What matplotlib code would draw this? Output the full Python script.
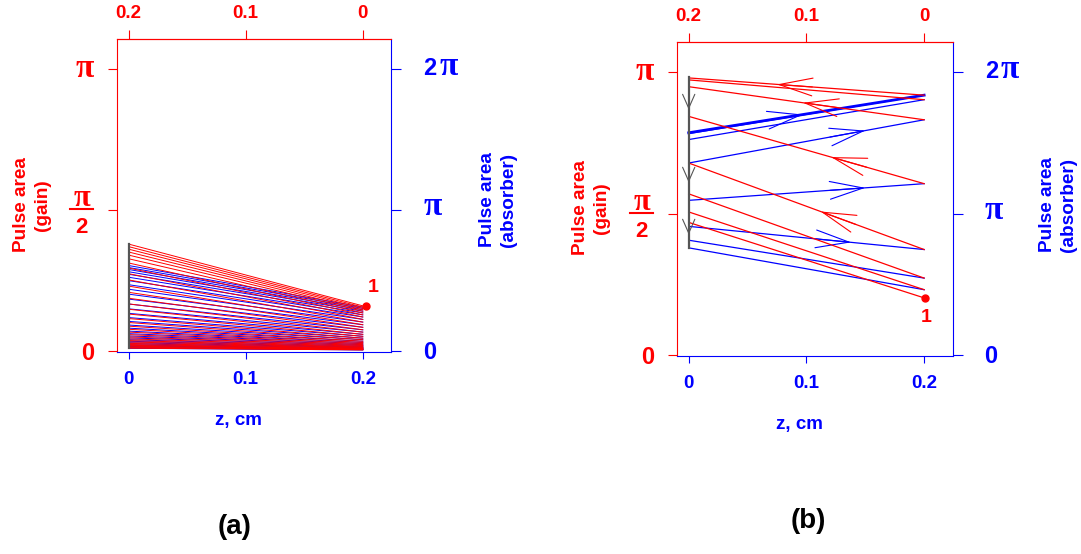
import matplotlib
matplotlib.use('Agg')
import matplotlib.pyplot as plt
import matplotlib.transforms as mtransforms
from matplotlib.lines import Line2D

RED = '#ff0000'
BLUE = '#0000ff'
GREY = '#555555'

# Panel (a): decaying pulse, areas in units of pi
# gain section: area at entry (z = 0.2) and exit (z = 0)
gain_in_a = [0.160, 0.1555, 0.151, 0.146, 0.141, 0.135, 0.128, 0.1205, 0.112,
             0.1024, 0.0931, 0.0839, 0.0751, 0.0668, 0.059, 0.052, 0.0455,
             0.0398, 0.0345, 0.0301, 0.0261, 0.0225, 0.0193, 0.0165, 0.0142,
             0.0123, 0.0104, 0.0088, 0.0077, 0.0065, 0.0054, 0.0046, 0.0038]
gain_out_a = [0.379, 0.370, 0.361, 0.351, 0.340, 0.327, 0.312, 0.294, 0.274,
              0.252, 0.230, 0.208, 0.187, 0.167, 0.148, 0.131, 0.115, 0.101,
              0.088, 0.077, 0.067, 0.058, 0.050, 0.043, 0.037, 0.032, 0.027,
              0.023, 0.020, 0.017, 0.014, 0.012, 0.010]
# absorber section: area at entry (z = 0) and exit (z = 0.2)
abs_in_a = [0.606, 0.592, 0.578, 0.562, 0.544, 0.523, 0.499, 0.470, 0.438,
            0.403, 0.368, 0.333, 0.299, 0.267, 0.237, 0.210, 0.184, 0.162,
            0.141, 0.123, 0.107, 0.093, 0.080, 0.069, 0.059, 0.051, 0.043,
            0.037, 0.032, 0.027, 0.022, 0.019]
abs_out_a = [0.311, 0.302, 0.292, 0.282, 0.270, 0.256, 0.241, 0.224, 0.205,
             0.186, 0.168, 0.150, 0.134, 0.118, 0.104, 0.091, 0.080, 0.069,
             0.060, 0.052, 0.045, 0.039, 0.033, 0.028, 0.025, 0.021, 0.018,
             0.015, 0.013, 0.011, 0.009, 0.008]
start_a = (0.2025, 0.1585)

# Panel (b): pulse growing towards the stable area
gain_in_b = [0.202, 0.231, 0.272, 0.373, 0.606, 0.832, 0.903, 0.919]
gain_out_b = [0.469, 0.506, 0.570, 0.679, 0.844, 0.949, 0.973, 0.980]
abs_in_b = [0.758, 0.812, 0.910, 1.094, 1.358, 1.524, 1.566, 1.572]
abs_out_b = [0.462, 0.544, 0.746, 1.212, 1.664, 1.806, 1.838, 1.838]
start_b = (0.2005, 0.202)

# arrowheads: (line index, z of the tip)
gain_arrows_b = [(3, 0.112), (4, 0.121), (5, 0.097), (7, 0.075)]
abs_arrows_b = [(2, 0.138), (3, 0.150), (4, 0.150), (7, 0.097)]
drop_tips_b = [0.868, 0.610, 0.426]

L = 0.2  # section length, cm

plt.rcParams['font.family'] = 'Liberation Sans'
plt.rcParams['font.weight'] = 'bold'

W, H = 1081, 554
SERIF = 'Liberation Serif'
SANS = 'Liberation Sans'


def flip(z):
    return L - z


def tick_text(axis, side, y, s, dx, dy, color, size, family=SANS):
    # dx, dy in pixels from the spine / tick position, dy to the baseline
    x = 0 if side == 'left' else 1
    axis.annotate(s, xy=(x, y), xycoords=('axes fraction', 'data'),
                  xytext=(dx * 0.72, dy * 0.72), textcoords='offset points',
                  ha='center', va='baseline', color=color, fontsize=size,
                  family=family, annotation_clip=False)


def setup_panel(fig, rect):
    ax = fig.add_axes(rect)
    ab = ax.twinx()
    ax.set_zorder(ab.get_zorder() + 1)
    ax.patch.set_visible(False)

    ax.set_xlim(-0.0102, 0.2241)
    ax.set_ylim(-0.0025, 1.106)
    ab.set_ylim(-0.005, 2.212)

    ax.set_yticks([0, 0.5, 1])
    ax.set_yticklabels([])
    ax.tick_params(axis='y', colors=RED, length=6.5, width=0.8)
    ax.set_xticks([0, 0.1, 0.2])
    ax.set_xticklabels(['0', '0.1', '0.2'])
    ax.tick_params(axis='x', colors=BLUE, length=5, width=0.8, pad=9,
                   labelsize=13.5)

    ab.set_yticks([0, 1, 2])
    ab.set_yticklabels([])
    ab.tick_params(axis='y', colors=BLUE, length=7, width=0.8)

    top = ax.secondary_xaxis('top', functions=(flip, flip))
    top.set_xticks([0.2, 0.1, 0])
    top.set_xticklabels(['0.2', '0.1', '0'])
    top.tick_params(colors=RED, length=6.5, width=0.8, pad=6, labelsize=13.5)
    top.spines['top'].set_color(RED)
    top.spines['top'].set_linewidth(0.8)

    for s in ab.spines.values():
        s.set_visible(False)
    ab.spines['right'].set_visible(True)
    ab.spines['right'].set_color(BLUE)
    ab.spines['right'].set_linewidth(0.8)
    ax.spines['right'].set_visible(False)
    ax.spines['left'].set_color(RED)
    ax.spines['top'].set_color(RED)
    ax.spines['bottom'].set_color(BLUE)
    for s in ('left', 'top', 'bottom'):
        ax.spines[s].set_linewidth(0.8)

    # gain scale: 0, pi/2, pi
    tick_text(ax, 'left', 0, '0', -29.5, -9.3, RED, 17)
    tick_text(ax, 'left', 1, 'π', -32, -8, RED, 24, SERIF)
    tick_text(ax, 'left', 0.5, 'π', -35, 4, RED, 22, SERIF)
    tick_text(ax, 'left', 0.5, '2', -35, -23, RED, 16)
    wpx = rect[2] * W
    bar = Line2D([-47 / wpx, -23.5 / wpx], [0.5, 0.5], color=RED, lw=1.5,
                 transform=mtransforms.offset_copy(
                     mtransforms.blended_transform_factory(ax.transAxes,
                                                           ax.transData),
                     fig=fig, y=0.7, units='dots'))
    fig.add_artist(bar)

    # absorber scale: 0, pi, 2 pi
    tick_text(ab, 'right', 0, '0', 38.5, -8.3, BLUE, 17)
    tick_text(ab, 'right', 1, 'π', 41.5, -5.5, BLUE, 24, SERIF)
    tick_text(ab, 'right', 2, '2', 39, -6, BLUE, 17)
    tick_text(ab, 'right', 2, 'π', 57.5, -6, BLUE, 24, SERIF)
    return ax, ab


def on_line(left, right, z):
    return left + (right - left) * z / L


def head(axis, tip, tail, color, size):
    axis.annotate('', xy=tip, xytext=tail,
                  arrowprops=dict(arrowstyle='->,head_length=%g,head_width=%g'
                                  % size, color=color, lw=0.8,
                                  mutation_scale=20, shrinkA=0, shrinkB=0))


def labels(fig, xl, xr, xz, yl, yr, yz):
    fig.text(xl / W, 1 - yl / H, 'Pulse area\n(gain)', color=RED,
             fontsize=13.7, rotation=90, ha='center', va='center',
             ma='center', linespacing=1.35)
    fig.text(xr / W, 1 - yr / H, 'Pulse area\n(absorber)', color=BLUE,
             fontsize=13.7, rotation=90, ha='center', va='center',
             ma='center', linespacing=1.35)
    fig.text(xz / W, 1 - yz / H, 'z, cm', color=BLUE, fontsize=13.5,
             ha='center', va='center')


fig = plt.figure(figsize=(W / 100, H / 100), dpi=100)

# (a)
ax, ab = setup_panel(fig, [116.7 / W, 1 - 351.7 / H, 274.3 / W, 312.7 / H])
for b_in, b_out in zip(abs_in_a, abs_out_a):
    ab.plot([0, L], [b_in, b_out], color=BLUE, lw=0.7)
for g_out, g_in in zip(gain_out_a, gain_in_a):
    ax.plot([0, L], [g_out, g_in], color=RED, lw=0.7)
ax.plot([0, 0], [min(gain_out_a), max(gain_out_a)], color=GREY, lw=1.6)
ax.plot(*start_a, 'o', color=RED, ms=5, clip_on=False)
ax.annotate('1', start_a, xytext=(5.5, 13.5), textcoords='offset points',
            color=RED, fontsize=14, ha='center', va='center')
labels(fig, 32, 498, 238, 205, 200, 420)
fig.text(235 / W, 1 - 527 / H, '(a)', fontsize=20, ha='center', va='center')

# (b)
ax, ab = setup_panel(fig, [676.7 / W, 1 - 355.7 / H, 275.8 / W, 313.4 / H])
for i, (b_in, b_out) in enumerate(zip(abs_in_b, abs_out_b)):
    ab.plot([0, L], [b_in, b_out], color=BLUE,
            lw=2.0 if i == len(abs_in_b) - 1 else 0.9)
for g_out, g_in in zip(gain_out_b, gain_in_b):
    ax.plot([0, L], [g_out, g_in], color=RED, lw=0.9)

for i, z in gain_arrows_b:
    tip = (z, on_line(gain_out_b[i], gain_in_b[i], z))
    tail = (z + 0.03, on_line(gain_out_b[i], gain_in_b[i], z + 0.03))
    head(ax, tip, tail, RED, (1.2, 0.32))
for i, z in abs_arrows_b:
    tip = (z, on_line(abs_in_b[i], abs_out_b[i], z))
    tail = (z - 0.03, on_line(abs_in_b[i], abs_out_b[i], z - 0.03))
    head(ab, tip, tail, BLUE, (1.2, 0.32))

ax.plot([0, 0], [abs_in_b[0] / 2, 0.984], color=GREY, lw=1.6)
for y in drop_tips_b:
    head(ax, (0, y), (0, y + 0.04), GREY, (0.5, 0.22))

ax.plot(*start_b, 'o', color=RED, ms=5, clip_on=False)
ax.annotate('1', start_b, xytext=(1.3, -14.2), textcoords='offset points',
            color=RED, fontsize=14, ha='center', va='center')
labels(fig, 591, 1058, 799, 208, 205, 424)
fig.text(808 / W, 1 - 521 / H, '(b)', fontsize=20, ha='center', va='center')

fig.savefig('out.png', dpi=100)
